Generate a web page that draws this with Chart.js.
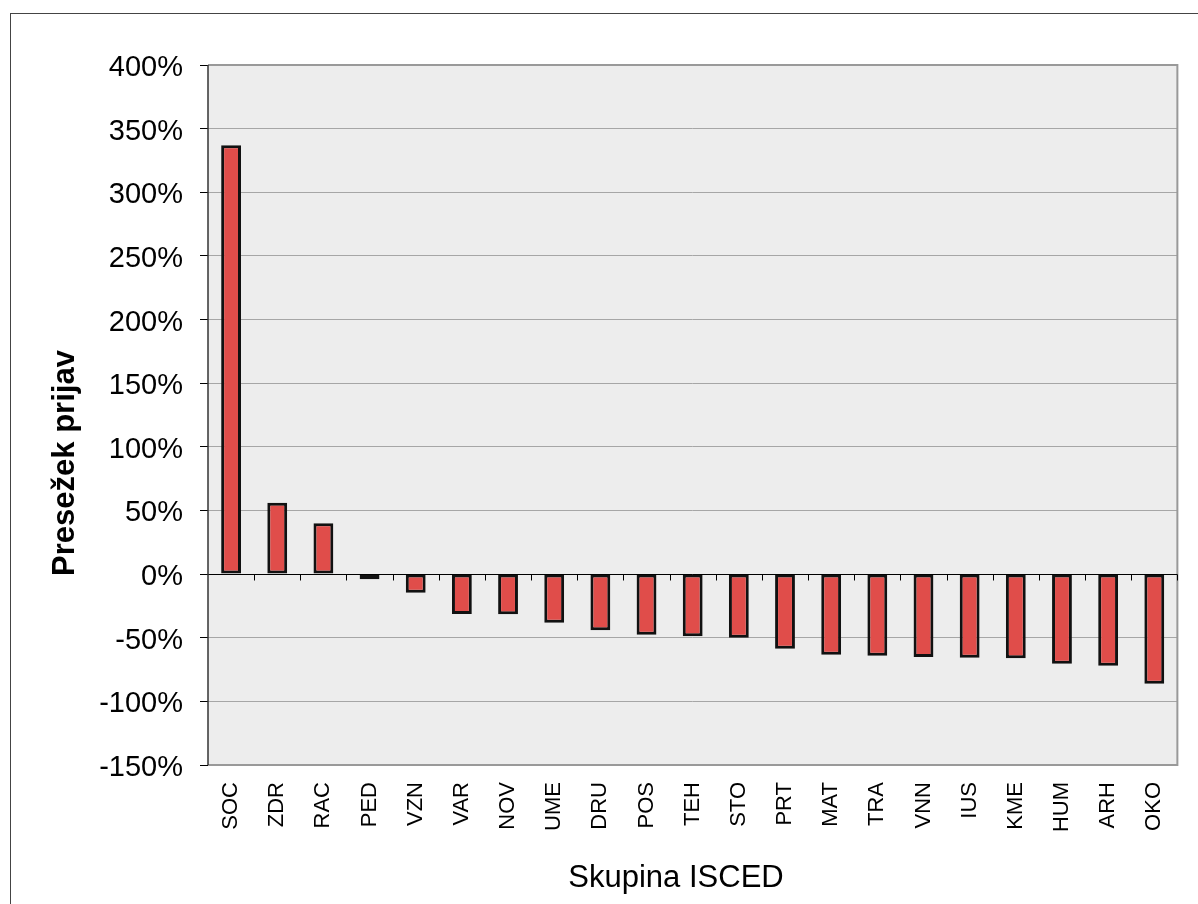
<!DOCTYPE html>
<html>
<head>
<meta charset="utf-8">
<script src="https://cdn.jsdelivr.net/npm/chart.js@4"></script>
<style>
  body { margin: 0; background: #fff; }
  #wrap { width: 1198px; height: 904px; }
</style>
</head>
<body>
<div id="wrap"><canvas id="grafikon" width="1198" height="904"></canvas></div>
<script>
const skupine = ['SOC', 'ZDR', 'RAC', 'PED', 'VZN', 'VAR', 'NOV', 'UME', 'DRU', 'POS', 'TEH',
    'STO', 'PRT', 'MAT', 'TRA', 'VNN', 'IUS', 'KME', 'HUM', 'ARH', 'OKO'];
const presezek = [337, 56, 40, -4, -14.6, -31.4, -31.6, -38.2, -44.2, -47.6, -48.9,
    -50, -58.6, -63.3, -64.1, -65.1, -65.7, -66.2, -70.4, -72, -86.1];
const yMin = -150;
const yMax = 400;
const yKorak = 50;
const naslovX = 'Skupina ISCED';
const naslovY = 'Presežek prijav';

// ozadje, okvir, os pri 0 % in naslova osi
const okvir = {
    id: 'okvir',
    beforeDraw(chart) {
        const { ctx, chartArea: a } = chart;
        ctx.save();
        ctx.fillStyle = '#EDEDED';
        ctx.fillRect(a.left, a.top, a.right - a.left, a.bottom - a.top);
        ctx.strokeStyle = '#444';
        ctx.lineWidth = 1;
        ctx.strokeRect(10.5, 13.5, 1200, 900);
        ctx.restore();
    },
    afterDraw(chart) {
        const { ctx, chartArea: a, scales } = chart;
        ctx.save();
        ctx.strokeStyle = '#999';
        ctx.lineWidth = 2;
        ctx.beginPath();
        ctx.moveTo(a.left, a.top);
        ctx.lineTo(a.right, a.top);
        ctx.lineTo(a.right, a.bottom);
        ctx.lineTo(a.left, a.bottom);
        ctx.stroke();

        const y0 = Math.round(scales.y.getPixelForValue(0)) + 0.5;
        ctx.strokeStyle = '#000';
        ctx.lineWidth = 1;
        ctx.beginPath();
        ctx.moveTo(a.left, y0);
        ctx.lineTo(a.right, y0);
        for (let i = 0; i < skupine.length; i++) {
            const x = i < skupine.length - 1
                ? (scales.x.getPixelForValue(i) + scales.x.getPixelForValue(i + 1)) / 2
                : a.right;
            const xr = Math.round(x) + 0.5;
            ctx.moveTo(xr, y0);
            ctx.lineTo(xr, y0 + 6);
        }
        ctx.stroke();

        ctx.strokeStyle = '#333';
        ctx.lineWidth = 1.5;
        ctx.beginPath();
        ctx.moveTo(a.left, a.top);
        ctx.lineTo(a.left, a.bottom);
        ctx.stroke();

        ctx.fillStyle = '#000';
        ctx.textAlign = 'center';
        ctx.textBaseline = 'middle';
        ctx.font = '31px "Liberation Sans"';
        ctx.fillText(naslovX, 676, 878);
        ctx.translate(65, 463);
        ctx.rotate(-Math.PI / 2);
        ctx.font = 'bold 31px "Liberation Sans"';
        ctx.fillText(naslovY, 0, 0);
        ctx.restore();
    }
};

new Chart(document.getElementById('grafikon'), {
    type: 'bar',
    data: {
        labels: skupine,
        datasets: [{
            data: presezek,
            backgroundColor: '#E04D4A',
            borderColor: '#111',
            borderWidth: 3,
            borderSkipped: false,
            barPercentage: 0.43,
            categoryPercentage: 1
        }]
    },
    options: {
        responsive: false,
        animation: false,
        layout: { padding: { top: 65, right: 13, left: 0, bottom: 0 } },
        plugins: {
            legend: { display: false },
            tooltip: { enabled: false }
        },
        scales: {
            x: {
                offset: true,
                grid: { display: false, drawTicks: false },
                border: { display: false },
                afterFit: (s) => { s.height = 139; },
                ticks: {
                    minRotation: 90,
                    maxRotation: 90,
                    padding: 17,
                    color: '#000',
                    font: { family: 'Liberation Sans', size: 22 }
                }
            },
            y: {
                min: yMin,
                max: yMax,
                afterFit: (s) => { s.width = 208; },
                grid: {
                    color: '#A6A6A6',
                    tickColor: '#000',
                    tickLength: 8,
                    lineWidth: 1
                },
                border: { display: false },
                ticks: {
                    stepSize: yKorak,
                    padding: 17,
                    labelOffset: 3,
                    color: '#000',
                    font: { family: 'Liberation Sans', size: 29 },
                    callback: (v) => v + '%'
                }
            }
        }
    },
    plugins: [okvir]
});
</script>
</body>
</html>
